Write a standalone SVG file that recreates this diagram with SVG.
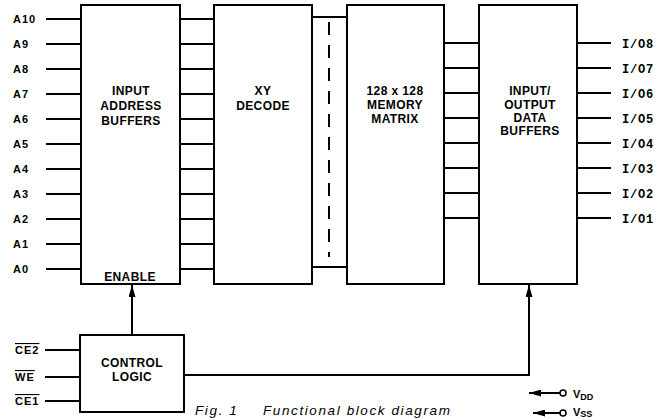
<svg xmlns="http://www.w3.org/2000/svg" width="656" height="419" viewBox="0 0 656 419">
<style>
.box{fill:#fff;stroke:#000;stroke-width:2}
.ln{stroke:#000;stroke-width:2;fill:none}
.dash{stroke:#000;stroke-width:2;stroke-dasharray:13 10;fill:none}
.t{font-family:"Liberation Sans",Arial,sans-serif;font-weight:bold;font-size:12px;letter-spacing:0.4px;fill:#000}
.tc{text-anchor:middle}
.lab{font-family:"Liberation Sans",Arial,sans-serif;font-weight:bold;font-size:11px;letter-spacing:1px;fill:#000}
.io{font-family:"Liberation Mono","Courier New",monospace;font-weight:bold;font-size:12px;letter-spacing:0.8px;fill:#000}
.ov{text-decoration:overline}
.cap{font-family:"Liberation Sans",Arial,sans-serif;font-style:italic;font-size:13.5px;letter-spacing:1.6px;fill:#000}
</style>
<defs>
<marker id="arr" viewBox="0 0 12 7" refX="12" refY="3.5" markerWidth="12" markerHeight="7" markerUnits="userSpaceOnUse" orient="auto">
<path d="M0,0 L12,3.5 L0,7 Z" fill="#000"/>
</marker>
</defs>
<rect width="656" height="419" fill="#fff"/>

<g id="connectors">
<path class="ln" d="M46,19H81M46,44H81M46,69H81M46,94H81M46,119H81M46,144H81M46,169H81M46,194H81M46,219H81M46,244H81M46,269H81"/>
<path class="ln" d="M180,19H214M180,44H214M180,69H214M180,94H214M180,119H214M180,144H214M180,169H214M180,194H214M180,219H214M180,244H214M180,269H214"/>
<path class="ln" d="M312,17H347M312,267H347"/>
<path class="dash" d="M329,22V257"/>
<path class="ln" d="M444,43H479M444,68H479M444,93H479M444,118H479M444,143H479M444,168H479M444,193H479M444,218H479"/>
<path class="ln" d="M577,43H611M577,68H611M577,93H611M577,118H611M577,143H611M577,168H611M577,193H611M577,218H611"/>
<path class="ln" d="M45,350H80M45,377H80M45,401H80"/>
<line class="ln" x1="132" y1="335" x2="132" y2="285" marker-end="url(#arr)"/>
<polyline class="ln" points="184,375 529,375 529,285" marker-end="url(#arr)"/>
<line class="ln" x1="560" y1="393" x2="529" y2="393" marker-end="url(#arr)"/>
<circle cx="563" cy="393" r="3" fill="#fff" stroke="#000" stroke-width="1.5"/>
<line class="ln" x1="560" y1="413" x2="533" y2="413" marker-end="url(#arr)"/>
<circle cx="563" cy="413" r="3" fill="#fff" stroke="#000" stroke-width="1.5"/>
</g>

<g id="address-labels">
<text class="lab" x="13" y="23">A10</text>
<text class="lab" x="13" y="48">A9</text>
<text class="lab" x="13" y="73">A8</text>
<text class="lab" x="13" y="98">A7</text>
<text class="lab" x="13" y="123">A6</text>
<text class="lab" x="13" y="148">A5</text>
<text class="lab" x="13" y="173">A4</text>
<text class="lab" x="13" y="198">A3</text>
<text class="lab" x="13" y="223">A2</text>
<text class="lab" x="13" y="248">A1</text>
<text class="lab" x="13" y="273">A0</text>
</g>

<g id="io-labels">
<text class="io" x="622" y="48">I/O8</text>
<text class="io" x="622" y="73">I/O7</text>
<text class="io" x="622" y="98">I/O6</text>
<text class="io" x="622" y="123">I/O5</text>
<text class="io" x="622" y="148">I/O4</text>
<text class="io" x="622" y="173">I/O3</text>
<text class="io" x="622" y="198">I/O2</text>
<text class="io" x="622" y="223">I/O1</text>
</g>

<g id="control-labels">
<text class="lab ov" x="15" y="354">CE2</text>
<text class="lab ov" x="15" y="381">WE</text>
<text class="lab ov" x="15" y="405">CE1</text>
</g>

<g id="input-address-buffers">
<rect class="box" x="81" y="5" width="99" height="279"/>
<text class="t tc" x="131" y="95">INPUT</text>
<text class="t tc" x="131" y="110">ADDRESS</text>
<text class="t tc" x="131" y="125">BUFFERS</text>
<text class="t tc" x="130" y="281">ENABLE</text>
</g>

<g id="xy-decode">
<rect class="box" x="214" y="5" width="98" height="279"/>
<text class="t tc" x="263" y="95">XY</text>
<text class="t tc" x="263" y="110">DECODE</text>
</g>

<g id="memory-matrix">
<rect class="box" x="347" y="5" width="97" height="279"/>
<text class="t tc" x="395" y="95">128 x 128</text>
<text class="t tc" x="395" y="109">MEMORY</text>
<text class="t tc" x="395" y="123">MATRIX</text>
</g>

<g id="io-data-buffers">
<rect class="box" x="479" y="5" width="98" height="279"/>
<text class="t tc" x="530" y="95">INPUT/</text>
<text class="t tc" x="530" y="109">OUTPUT</text>
<text class="t tc" x="530" y="122">DATA</text>
<text class="t tc" x="530" y="135">BUFFERS</text>
</g>

<g id="control-logic">
<rect class="box" x="80" y="335" width="104" height="77"/>
<text class="t tc" x="132" y="367">CONTROL</text>
<text class="t tc" x="132" y="381">LOGIC</text>
</g>

<g id="supply-labels">
<text class="lab" x="573" y="398" style="letter-spacing:0">V<tspan font-size="9" dy="2">DD</tspan></text>
<text class="lab" x="573" y="416" style="letter-spacing:0">V<tspan font-size="9" dy="1">SS</tspan></text>
</g>

<g id="caption">
<text class="cap" x="195" y="415">Fig. 1</text>
<text class="cap" x="263" y="415">Functional block diagram</text>
</g>
</svg>
